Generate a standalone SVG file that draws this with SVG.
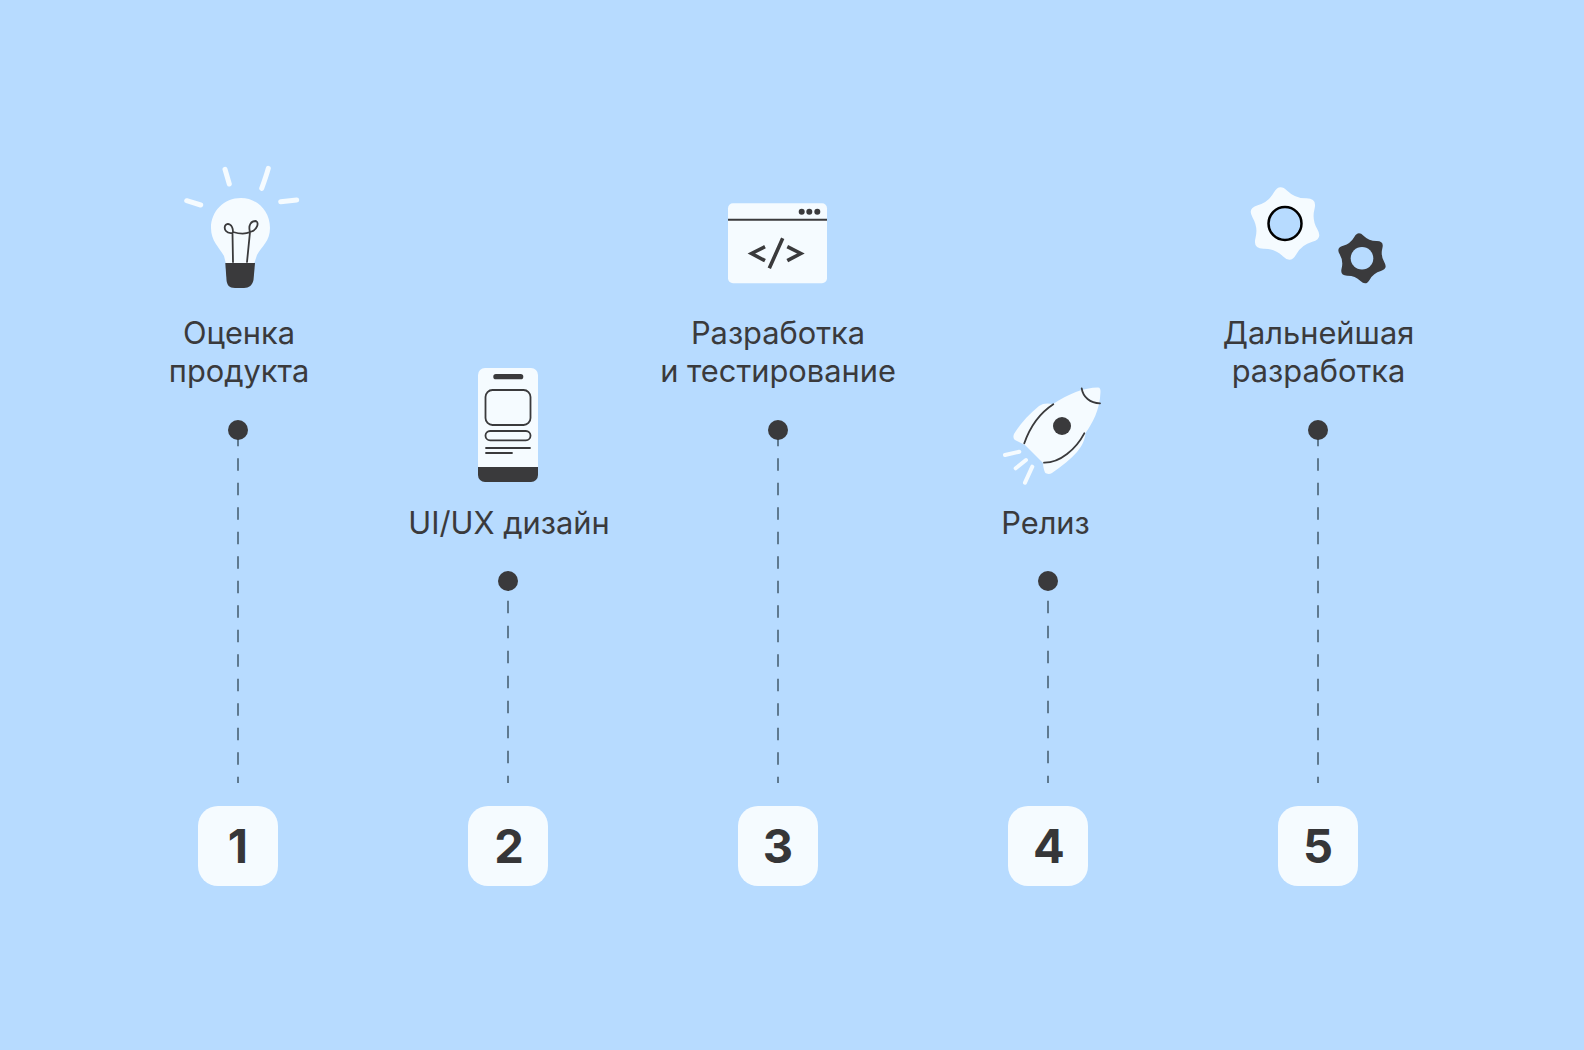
<svg xmlns="http://www.w3.org/2000/svg" width="1584" height="1050" viewBox="0 0 1584 1050">
<style>
.lbl{font-family:"Inter","Liberation Sans",sans-serif;font-size:30.8px;fill:#3a3a3c;text-anchor:middle}
.num{font-family:"Inter","Liberation Sans",sans-serif;font-size:47px;font-weight:700;fill:#363638;text-anchor:middle}
.dash{stroke:#5f7a90;stroke-width:2;fill:none}
.long{stroke-dasharray:12.5 12}
.short{stroke-dasharray:12.6 12.4}
.box{fill:#f5fbff}
.dot{fill:#3a3a3c}
.w{fill:#f5fbff}
.k{fill:#3a3a3c}
.ln{fill:none;stroke:#3a3a3c;stroke-width:1.8;stroke-linecap:round}
.ray{fill:none;stroke:#f5fbff;stroke-width:5;stroke-linecap:round}
</style>
<defs>
<path id="gear" d="M-11.15 -30.95Q-5.7 -40.6 2.2 -32.8Q10.1 -25 21.2 -25.15Q32.3 -25.3 29.5 -14.55Q26.7 -3.8 32.35 5.8Q38 15.4 27.3 18.35Q16.6 21.3 11.15 30.95Q5.7 40.6 -2.2 32.8Q-10.1 25 -21.2 25.15Q-32.3 25.3 -29.5 14.55Q-26.7 3.8 -32.35 -5.8Q-38 -15.4 -27.3 -18.35Q-16.6 -21.3 -11.15 -30.95Z"/>
</defs>
<rect width="1584" height="1050" fill="#b7dbff"/>
<g id="connectors">
<line class="dash long" x1="238" y1="433.8" x2="238" y2="783"/>
<line class="dash short" x1="508" y1="600.7" x2="508" y2="783"/>
<line class="dash long" x1="778" y1="433.8" x2="778" y2="783"/>
<line class="dash short" x1="1048" y1="600.7" x2="1048" y2="783"/>
<line class="dash long" x1="1318" y1="433.8" x2="1318" y2="783"/>
</g>
<g id="node1">
<path class="ray" d="M186.700 200.700L200.700 205M225 169.300L229.300 184M268.300 168.300C266.500 175 264 182 261.700 188.300M280.700 201.700L296.700 200"/>
<path class="w" d="M241 198C224 198 211 211 211 228C211 241 219 247 224 256L226 264H254L257 255C262 246 270 241 270 228C270 211 257 198 241 198Z"/>
<path class="k" d="M225.300 263H255L253.500 280C252.500 285 249 288 244 288H235C229 288 227 285 226.500 280Z"/>
<path class="ln" d="M233 262L232.500 233C226 234 224 229 225 226C227 222 233 224 233 232C240 234 246 234 250 232C248 225 251 221 256 221C259 222 258 230 250 232L247 262"/>
<text class="lbl" x="239" y="344">Оценка</text>
<text class="lbl" x="239" y="382">продукта</text>
<circle class="dot" cx="238" cy="430" r="10"/>
<rect class="box" x="198" y="806" width="80" height="80" rx="20"/>
<text class="num" x="238" y="863">1</text>
</g>
<g id="node2">
<path class="w" d="M478 375a7 7 0 0 1 7-7h46a7 7 0 0 1 7 7v93H478Z"/>
<path class="k" d="M478 467H538V475a7 7 0 0 1-7 7H485a7 7 0 0 1-7-7Z"/>
<rect class="k" x="493.300" y="374" width="30" height="5.300" rx="2.600"/>
<rect x="485.500" y="390" width="45" height="35" rx="7" fill="none" stroke="#3a3a3c" stroke-width="1.800"/>
<rect x="485.500" y="431" width="45" height="9.300" rx="4.600" fill="none" stroke="#3a3a3c" stroke-width="1.800"/>
<path class="ln" d="M486 448H530M486 453H512" stroke-linecap="butt"/>
<text class="lbl" x="509" y="534">UI/UX дизайн</text>
<circle class="dot" cx="508" cy="581" r="10"/>
<rect class="box" x="468" y="806" width="80" height="80" rx="20"/>
<text class="num" x="509" y="863">2</text>
</g>
<g id="node3">
<rect class="w" x="728" y="203.300" width="99" height="80" rx="5"/>
<path d="M728 219.700H827" stroke="#3a3a3c" stroke-width="2"/>
<circle class="k" cx="801.700" cy="211.700" r="3"/><circle class="k" cx="809.300" cy="211.700" r="3"/><circle class="k" cx="817.300" cy="211.700" r="3"/>
<path d="M765 246.700L751.500 253.500L765 260.700M787.300 246.700L800.800 253.500L787.300 260.700M782.700 238.300L769.300 268.300" fill="none" stroke="#3a3a3c" stroke-width="3.600"/>
<text class="lbl" x="778" y="344">Разработка</text>
<text class="lbl" x="778" y="382">и тестирование</text>
<circle class="dot" cx="778" cy="430" r="10"/>
<rect class="box" x="738" y="806" width="80" height="80" rx="20"/>
<text class="num" x="778" y="863">3</text>
</g>
<g id="node4">
<path class="w" d="M1098 387.500C1084 387.500 1068 394 1053 404C1048 403 1043 403 1039 406C1029 414 1020 424 1014 434C1012.500 438 1014 440 1017 441L1025 445L1043 463C1043 467 1044 470 1045 472.500C1047 474.500 1050 474 1052 473C1062 466 1071 459 1077 452C1082 446 1085 440 1085.500 433C1092 424 1100 410 1100.500 392C1100.500 389 1100 387.500 1098 387.500Z"/>
<path class="ln" d="M1081.700 388.300C1083 397 1090 403 1100 403.300M1053.300 404.300C1040 413 1030 427 1024.300 443.300M1084.300 433.300C1076 449 1060 463 1044 462.700"/>
<circle class="k" cx="1062" cy="426" r="9"/>
<path class="ray" d="M1005 455L1019.300 451.700M1015.700 468.300L1026 460M1025 482.700L1032.300 466.700" style="stroke-width:4"/>
<text class="lbl" x="1045.500" y="534">Релиз</text>
<circle class="dot" cx="1048" cy="581" r="10"/>
<rect class="box" x="1008" y="806" width="80" height="80" rx="20"/>
<text class="num" x="1049" y="863">4</text>
</g>
<g id="node5">
<use href="#gear" class="w" transform="translate(1285 223.500)"/>
<circle cx="1285" cy="223.500" r="16.500" fill="#b7dbff" stroke="#000" stroke-width="2.500"/>
<use href="#gear" class="k" transform="translate(1362 258.300) scale(0.69)"/>
<circle cx="1362" cy="258.300" r="11.300" fill="#b7dbff"/>
<text class="lbl" x="1318.500" y="344">Дальнейшая</text>
<text class="lbl" x="1318.500" y="382">разработка</text>
<circle class="dot" cx="1318" cy="430" r="10"/>
<rect class="box" x="1278" y="806" width="80" height="80" rx="20"/>
<text class="num" x="1318" y="863">5</text>
</g>
</svg>
